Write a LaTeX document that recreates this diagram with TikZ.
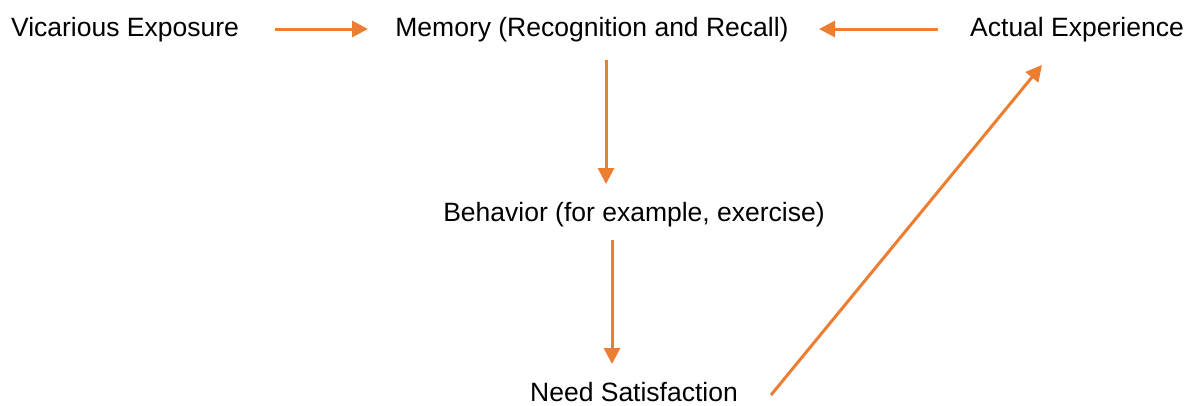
\documentclass[tikz,border=0pt]{standalone}
\usepackage{fontspec}
\setmainfont{Liberation Sans}
\usetikzlibrary{arrows.meta}
\definecolor{arr}{HTML}{ED7D31}
\begin{document}
\begin{tikzpicture}[x=1pt,y=-1pt,
  lbl/.style={inner sep=0pt,font=\fontsize{26.5}{32}\selectfont,anchor=base},
  conn/.style={draw=arr,line width=3pt,-{Triangle[length=16pt,width=16pt]}}]
\useasboundingbox (0,0) rectangle (1188,405);
\node[lbl] (ve) at (125,36) {Vicarious Exposure};
\node[lbl] (mem) at (592,36) {Memory (Recognition and Recall)};
\node[lbl] (ae) at (1077,36) {Actual Experience};
\node[lbl] (beh) at (634,221) {Behavior (for example, exercise)};
\node[lbl] (ns) at (634,401) {Need Satisfaction};
\coordinate (a1s) at (275,29); \coordinate (a1e) at (368,29);
\coordinate (a2s) at (938,29); \coordinate (a2e) at (819,29);
\coordinate (a3s) at (606,60); \coordinate (a3e) at (606,184);
\coordinate (a4s) at (612,240); \coordinate (a4e) at (612,364);
\coordinate (a5s) at (771,395); \coordinate (a5e) at (1042,65);
\draw[conn] (a1s) -- (a1e);
\draw[conn] (a2s) -- (a2e);
\draw[conn] (a3s) -- (a3e);
\draw[conn] (a4s) -- (a4e);
\draw[conn] (a5s) -- (a5e);
\end{tikzpicture}
\end{document}
